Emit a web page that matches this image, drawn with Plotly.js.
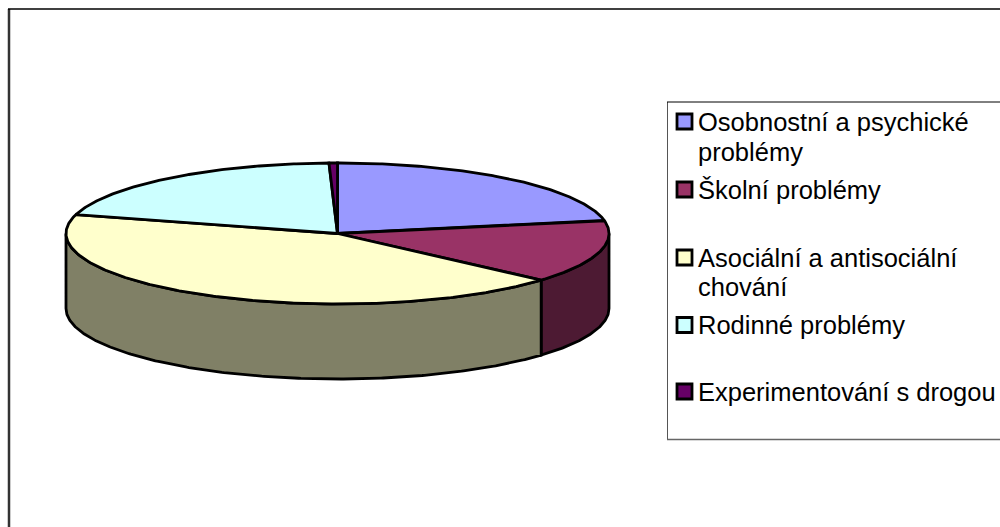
<!DOCTYPE html>
<html>
<head>
<meta charset="utf-8">
<script src="https://cdn.plot.ly/plotly-3.0.1.min.js"></script>
<style>html,body{margin:0;padding:0;background:#fff}#chart{width:1000px;height:527px}</style>
</head>
<body>
<div id="chart"></div>
<script>
// Chart data (percent shares, clockwise from 12 o'clock)
const categories = ['Osobnostní a psychické<br>problémy', 'Školní problémy', 'Asociální a antisociální<br>chování', 'Rodinné problémy', 'Experimentování s drogou'];
const values = [22, 14.5, 42.8, 20.2, 0.5];
// Styles
const topColors = ['#9999FF', '#993366', '#FFFFCC', '#CCFFFF', '#660066'];
const sideColors = ['#4D4D80', '#4D1A33', '#808066', '#668080', '#330033'];
const legendSwatchY = [121.5, 189.5, 257.5, 325, 391.5];
const legendLineY = [[122, 152], [190], [258, 287], [325], [392]];

// Pie geometry in axis units
const cx = 337.5, cy = 233.5, rx = 271.5, ry = 70.5, depth = 75;
const total = values.reduce((a, b) => a + b, 0);
const px = t => cx + rx * Math.sin(t * Math.PI / 180);
const py = t => cy - ry * Math.cos(t * Math.PI / 180);
const arc = (a, b) => { const o = []; const n = Math.max(2, Math.ceil(Math.abs(b - a) * 2)); for (let i = 0; i <= n; i++) o.push(a + (b - a) * i / n); return o; };

const sides = [], tops = [];
let start = 0;
values.forEach((v, i) => {
  const end = start + v / total * 360;
  // Visible wall: the front half of the rim only
  const a = Math.max(start, 90), b = Math.min(end, 270);
  if (b > a) {
    const ts = arc(a, b), rev = ts.slice().reverse();
    sides.push({
      type: 'scatter', mode: 'lines', fill: 'toself', fillcolor: sideColors[i], hoverinfo: 'skip',
      line: { color: '#000', width: 2.8 },
      x: ts.map(px).concat(rev.map(px), [px(a)]),
      y: ts.map(t => py(t)).concat(rev.map(t => py(t) + depth), [py(a)])
    });
  }
  const ts = arc(start, end);
  tops.push({
    type: 'scatter', mode: 'lines', fill: 'toself', fillcolor: topColors[i], hoverinfo: 'skip',
    line: { color: '#000', width: 2.8 },
    x: [cx].concat(ts.map(px), [cx]),
    y: [cy].concat(ts.map(py), [cy])
  });
  start = end;
});

const swatches = {
  type: 'scatter', mode: 'markers', hoverinfo: 'skip',
  x: categories.map(() => 684.5), y: legendSwatchY,
  marker: { symbol: 'square', size: 15, color: topColors, line: { color: '#000', width: 2.8 } }
};

const annotations = [];
categories.forEach((c, i) => c.split('<br>').forEach((line, j) => annotations.push({
  x: 697, y: legendLineY[i][j], xref: 'x', yref: 'y', xanchor: 'left', yanchor: 'middle', align: 'left',
  text: line, showarrow: false, borderpad: 0,
  font: { family: 'Liberation Sans, Arial, sans-serif', size: 25.5, color: '#000' }
})));

const seg = (x0, y0, x1, y1, color, width) => ({ type: 'line', xref: 'x', yref: 'y', x0, y0, x1, y1, line: { color, width } });
const shapes = [
  seg(9, 9, 9, 527, '#333333', 2.5),
  seg(8, 9, 1000, 9, '#000000', 1.5),
  seg(667.5, 102, 667.5, 440, '#555555', 1),
  seg(667, 102, 1000, 102, '#000000', 1),
  seg(667, 439.5, 1000, 439.5, '#666666', 1.5)
];

Plotly.newPlot('chart', sides.concat(tops, [swatches]), {
  width: 1000, height: 527, showlegend: false,
  margin: { l: 0, r: 0, t: 0, b: 0, pad: 0 },
  paper_bgcolor: '#fff', plot_bgcolor: '#fff',
  xaxis: { range: [0, 1000], visible: false, fixedrange: true },
  yaxis: { range: [527, 0], visible: false, fixedrange: true },
  shapes, annotations
}, { displayModeBar: false, staticPlot: true });
</script>
</body>
</html>
